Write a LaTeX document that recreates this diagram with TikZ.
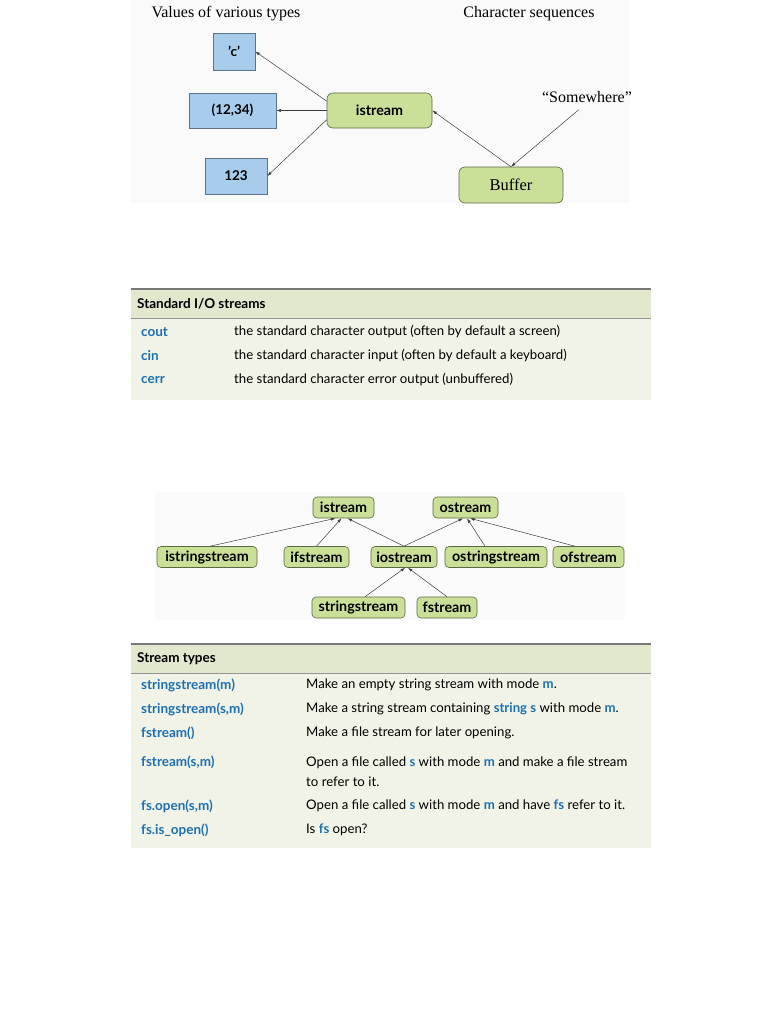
\documentclass[tikz,border=0pt]{standalone}
\usepackage{fontspec}
\setmainfont{Liberation Serif}
\setsansfont{Lato}
\usepackage{tikz}
\usetikzlibrary{arrows.meta,positioning}

\definecolor{valfill}{RGB}{168,204,236}
\definecolor{valline}{RGB}{95,115,135}
\definecolor{strfill}{RGB}{202,223,152}
\definecolor{strline}{RGB}{92,106,66}
\definecolor{headfill}{RGB}{226,232,206}
\definecolor{bodyfill}{RGB}{240,243,230}
\definecolor{rulegray}{RGB}{120,120,120}
\definecolor{kwblue}{RGB}{28,112,178}
\definecolor{arrowgray}{RGB}{60,60,60}

\newcommand{\kw}[1]{\textbf{\color{kwblue}#1}}

\begin{document}
\begin{tikzpicture}[
  x=1pt, y=-1pt,
  >={Latex[length=4.5pt,width=3pt]},
  valbox/.style={draw=valline, fill=valfill, line width=0.6pt, inner sep=0pt,
    font=\sffamily\bfseries\fontsize{13.5}{16}\selectfont},
  strm/.style={draw=strline, fill=strfill, rounded corners=6pt, line width=0.6pt, inner sep=0pt,
    font=\sffamily\bfseries\fontsize{14.3}{16}\selectfont},
  flow/.style={->, line width=0.5pt, draw=arrowgray},
  lbl/.style={font=\fontsize{16}{19}\selectfont, inner sep=0pt},
  cell/.style={anchor=west, inner sep=0pt, font=\sffamily\fontsize{13.2}{20}\selectfont},
  key/.style={cell, text=kwblue, font=\sffamily\bfseries\fontsize{13.5}{20}\selectfont}
]
\useasboundingbox (0,0) rectangle (782,1012);

% ── Top: istream between values and characters ──
\fill[black!2] (130,0) rectangle (630,203);

\node[lbl] (vallbl) at (226,14) {Values of various types};
\node[lbl] (chrlbl) at (529,14) {Character sequences};

\node[valbox, minimum width=42, minimum height=37] (cval) at (234,51.5) {'c'};
\node[valbox, minimum width=87, minimum height=35] (pairval) at (232.5,110.5) {(12,34)};
\node[valbox, minimum width=62, minimum height=36] (intval) at (236,176) {123};

\node[strm, minimum width=105, minimum height=35] (istr) at (379.5,110.5) {istream};
\node[strm, minimum width=104, minimum height=36,
  font=\fontsize{16.5}{19}\selectfont] (buffer) at (511,185) {Buffer};
\node[lbl] (somewhere) at (587,97) {“Somewhere”};

\draw[flow] (istr.170) -- (cval.east);
\draw[flow] (istr.west) -- (pairval.east);
\draw[flow] (istr.190) -- (intval.east);
\draw[flow] (buffer.north) -- (istr.east);
\draw[flow, shorten <=11pt] (somewhere.south) -- (buffer.north);

% ── Table: standard I/O streams ──
\fill[headfill] (131,289) rectangle (651,318);
\fill[bodyfill] (131,318) rectangle (651,400);
\draw[rulegray, line width=1.3pt] (131,289) -- (651,289);
\draw[rulegray!80, line width=0.6pt] (131,318) -- (651,318);

\node[cell, font=\sffamily\bfseries\fontsize{13.5}{16}\selectfont] (iohead) at (137,304) {Standard I/O streams};
\node[key] (cout) at (141,332) {cout};
\node[cell] (coutdesc) at (234,332) {the standard character output (often by default a screen)};
\node[key] (cin) at (141,356) {cin};
\node[cell] (cindesc) at (234,356) {the standard character input (often by default a keyboard)};
\node[key] (cerr) at (141,380) {cerr};
\node[cell] (cerrdesc) at (234,380) {the standard character error output (unbuffered)};

% ── Middle: stream class hierarchy ──
\fill[black!1.5] (155,492) rectangle (625,620);

\node[strm, minimum width=61, minimum height=21, rounded corners=4pt] (hist) at (343.5,507.5) {istream};
\node[strm, minimum width=65, minimum height=21, rounded corners=4pt] (host) at (465.5,507.5) {ostream};

\node[strm, minimum width=100, minimum height=21, rounded corners=4pt] (hiss) at (207,557) {istringstream};
\node[strm, minimum width=65, minimum height=21, rounded corners=4pt] (hifs) at (316.5,557) {ifstream};
\node[strm, minimum width=66, minimum height=21, rounded corners=4pt] (hios) at (404,557) {iostream};
\node[strm, minimum width=102, minimum height=21, rounded corners=4pt] (hoss) at (496,557) {ostringstream};
\node[strm, minimum width=71, minimum height=21, rounded corners=4pt] (hofs) at (588.5,557) {ofstream};

\node[strm, minimum width=93, minimum height=21, rounded corners=4pt] (hss) at (358.5,607.5) {stringstream};
\node[strm, minimum width=60, minimum height=21, rounded corners=4pt] (hfs) at (447,607.5) {fstream};

\draw[flow] ([xshift=3pt]hiss.north) -- ([xshift=-8pt]hist.south);
\draw[flow] (hifs.north) -- ([xshift=-2pt]hist.south);
\draw[flow] (hios.north) -- ([xshift=4pt]hist.south);
\draw[flow] (hios.north) -- ([xshift=-2.5pt]host.south);
\draw[flow] ([xshift=-11pt]hoss.north) -- ([xshift=1.5pt]host.south);
\draw[flow] ([xshift=-13.5pt]hofs.north) -- ([xshift=4.5pt]host.south);
\draw[flow] ([xshift=6.5pt]hss.north) -- ([xshift=1pt]hios.south);
\draw[flow] (hfs.north) -- ([xshift=4pt]hios.south);

% ── Table: stream types ──
\fill[headfill] (131,644) rectangle (651,673);
\fill[bodyfill] (131,673) rectangle (651,848);
\draw[rulegray, line width=1.3pt] (131,644) -- (651,644);
\draw[rulegray!80, line width=0.6pt] (131,673) -- (651,673);

\node[cell, font=\sffamily\bfseries\fontsize{13.5}{16}\selectfont] (typehead) at (137,659) {Stream types};

\node[key] (ssm) at (141,685) {stringstream(m)};
\node[cell] (ssmdesc) at (306,685) {Make an empty string stream with mode \kw{m}.};
\node[key] (sssm) at (141,709) {stringstream(s,m)};
\node[cell] (sssmdesc) at (306,709) {Make a string stream containing \kw{string s} with mode \kw{m}.};
\node[key] (fsd) at (141,733) {fstream()};
\node[cell] (fsddesc) at (306,733) {Make a file stream for later opening.};
\node[key] (fssm) at (141,762) {fstream(s,m)};
\node[cell, align=left] (fssmdesc) at (306,772)
  {Open a file called \kw{s} with mode \kw{m} and make a file stream\\to refer to it.};
\node[key] (fsopen) at (141,806) {fs.open(s,m)};
\node[cell] (fsopendesc) at (306,806) {Open a file called \kw{s} with mode \kw{m} and have \kw{fs} refer to it.};
\node[key] (fsisopen) at (141,830) {fs.is\_open()};
\node[cell] (fsisopendesc) at (306,830) {Is \kw{fs} open?};

\end{tikzpicture}
\end{document}
